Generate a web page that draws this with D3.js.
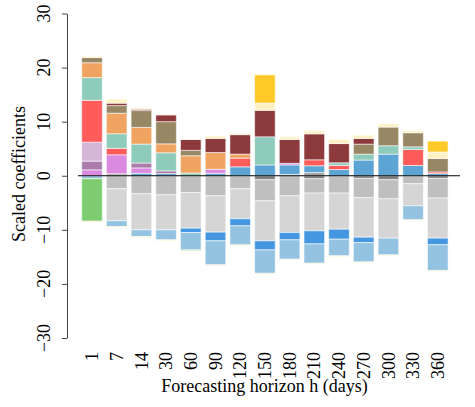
<!DOCTYPE html>
<html><head><meta charset="utf-8">
<script src="https://cdn.jsdelivr.net/npm/d3@7"></script>
<style>body{margin:0;background:#fff}svg{display:block} text{font-family:"Liberation Serif",serif !important;}</style>
</head><body>
<svg id="c" width="475" height="407"></svg>
<script>
const horizons = ["1","7","14","30","60","90","120","150","180","210","240","270","300","330","360"];
const yTicks = [-30,-20,-10,0,10,20,30];

// series (stacking order outward from zero)
const gray0     = [0,0,0,0,0,0,0,-0.74,0,-0.55,0,-0.49,-0.74,0,-0.49];
const gray1     = [0,0.37,0,0,0,0,0,0,0.25,0.6,0,0,0,0,0];
const grayB     = [0,-2.4,-3.33,-3.52,-3.09,-3.7,-2.4,-3.89,-3.7,-2.65,-3.21,-3.58,-3.52,-1.48,-3.64];
const lgray     = [0,-5.93,-6.67,-6.48,-6.6,-6.73,-5.56,-7.41,-6.79,-6.99,-6.67,-7.29,-7.28,-4.07,-7.4];
const bluePos   = [0,0,0.45,0.4,0,0.45,1.65,2.0,1.75,1.25,1.15,2.9,4.0,1.9,0.4];
const blueNeg   = [0,0,0,0,-0.8,-1.6,-1.3,-1.67,-1.36,-2.41,-1.85,-0.99,0,0,-1.23];
const lightblue = [-0.55,-1.05,-1.23,-1.85,-3.2,-4.44,-3.52,-4.32,-3.58,-3.57,-3.08,-3.58,-3.09,-2.59,-4.75];
const violet    = [1.1,3.5,1.0,0,0,0.75,0,0,0.3,0,0,0,0,0,0];
const mauve     = [1.6,0,0.9,0.5,0,0,0,0,0,0,0,0,0,0,0];
const lilac     = [3.5,0,0,0,0,0,0,0,0,0,0,0,0,0,0];
const red       = [7.75,1.2,0,0,0,0,1.6,0,0,1.1,0.75,0,0,2.95,0.3];
const teal      = [4.2,2.7,3.5,3.35,0.5,0,0,5.2,0,0,0.5,1.1,1.55,0.5,0];
const orange    = [2.75,3.8,3.1,1.65,3.2,3.1,0.75,0,0,0,0,0,0,0,0];
const khaki     = [0.95,1.4,3.1,4.1,1.0,0,0,0,0,0,0,1.85,3.45,2.6,2.5];
const darkred   = [0,0.45,0.25,1.25,2.0,2.6,3.6,4.9,4.4,4.8,3.55,1.05,0,0,0];
const green     = [-7.85,0,0,0,-0.15,0,0,0,0,0,0,0,0,0,0];
const lyellow   = [0.25,0.75,0.25,0.1,0.1,0.45,0.25,1.35,0.5,0.55,0.75,0.6,0.6,0.4,1.2];
const gold      = [0,0,0,0,0,0,0,5.2,0,0,0,0,0,0,2.0];
const yellowNeg = [-0.18,-0.12,-0.15,-0.12,0,-0.12,-0.12,-0.12,-0.12,-0.12,-0.12,-0.12,-0.12,-0.12,-0.12];

const seriesNames = ["gray0","gray1","grayB","lgray","bluePos","blueNeg","lightblue","violet","mauve","lilac","red","teal","orange","khaki","darkred","green","lyellow","gold","yellowNeg"];
const seriesValues = [gray0,gray1,grayB,lgray,bluePos,blueNeg,lightblue,violet,mauve,lilac,red,teal,orange,khaki,darkred,green,lyellow,gold,yellowNeg];
const seriesColors = ["#7f7f7f","#a5a5a5","#bfbfbf","#d5d5d5","#5ba4d4","#4597e1","#94c3e2","#da8adf","#ab7caa","#d6b6d7","#ff5b5b","#8fcbba","#efa561","#978765","#8d3a3d","#7dcc70","#fff1c4","#ffc927","#f2e3a6"];

const table = horizons.map((h,i)=>{
  const row = {h};
  seriesNames.forEach((n,k)=>row[n]=seriesValues[k][i]);
  return row;
});

const svg = d3.select("#c");

const y = d3.scaleLinear().domain([-30,30]).range([338,13.5]);
const x = d3.scaleBand().domain(horizons).range([79.65,450.15]).paddingInner(0.167).paddingOuter(0.0835);

const stacked = d3.stack().keys(seriesNames).offset(d3.stackOffsetDiverging)(table);
const color = d3.scaleOrdinal().domain(seriesNames).range(seriesColors);

const g = svg.append("g");
stacked.forEach(s=>{
  g.selectAll(null).data(s.filter(d=>Math.abs(d[1]-d[0])>1e-9)).enter().append("rect")
    .attr("x", d=>x(d.data.h))
    .attr("width", x.bandwidth())
    .attr("y", d=>y(Math.max(d[0],d[1])))
    .attr("height", d=>Math.abs(y(d[0])-y(d[1])))
    .attr("fill", color(s.key))
    .attr("stroke","#fff").attr("stroke-opacity",0.55).attr("stroke-width",1);
});

// zero line
svg.append("line").attr("x1",78).attr("x2",460).attr("y1",y(0)).attr("y2",y(0))
  .attr("stroke","#000").attr("stroke-width",1.2);

// y axis
const yAxis = svg.append("g").attr("transform","translate(67,0)")
  .call(d3.axisLeft(y).tickValues(yTicks).tickSize(5).tickSizeOuter(0));
yAxis.select(".domain").attr("stroke","#444");
yAxis.selectAll(".tick line").attr("stroke","#444");
yAxis.selectAll(".tick text").remove();
svg.append("g").selectAll("text").data(yTicks).enter().append("text")
  .attr("transform",d=>`translate(50,${y(d)}) rotate(-90)`)
  .attr("text-anchor","middle")
  .attr("font-size",18).attr("fill","#000")
  .text(d=>d3.format("")(d));

// x tick labels
svg.append("g").selectAll("text").data(horizons).enter().append("text")
  .attr("transform",d=>`translate(${x(d)+x.bandwidth()/2},352) rotate(-90)`)
  .attr("text-anchor","end").attr("dy","0.34em")
  .attr("font-size",18).attr("fill","#000")
  .text(d=>d);

// titles
svg.append("text").attr("x",264.5).attr("y",392).attr("text-anchor","middle")
  .attr("font-size",18).text("Forecasting horizon h (days)");
svg.append("text").attr("transform","translate(25,174) rotate(-90)").attr("text-anchor","middle")
  .attr("font-size",18).text("Scaled coefficients");
</script>
</body></html>
